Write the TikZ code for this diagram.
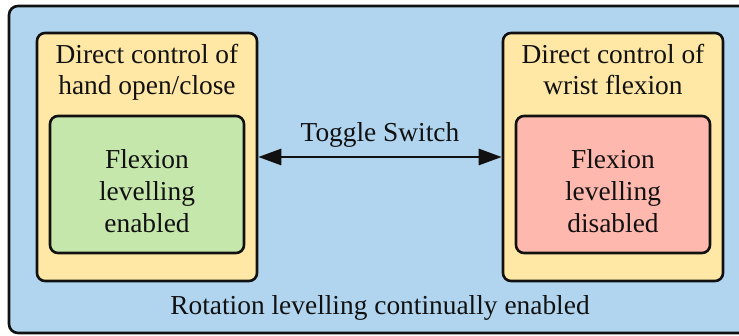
\documentclass[tikz,border=0pt]{standalone}
\usepackage{fontspec}
\setmainfont{Liberation Serif}
\usetikzlibrary{arrows.meta}
\definecolor{bgblue}{HTML}{B1D5EF}
\definecolor{ybox}{HTML}{FFE8A6}
\definecolor{gbox}{HTML}{C6E7AC}
\definecolor{rbox}{HTML}{FFB8AE}
\definecolor{ink}{HTML}{111111}
\tikzset{
  outerbox/.style={draw=ink, line width=2.6pt, fill=bgblue, rounded corners=9pt},
  modebox/.style={draw=ink, line width=2.6pt, fill=ybox, rounded corners=8pt, minimum width=220pt, minimum height=248pt, inner sep=0pt},
  statebox/.style={draw=ink, line width=2.6pt, rounded corners=8pt, minimum width=194pt, minimum height=137pt, inner sep=0pt},
  lbl/.style={anchor=base, inner sep=0pt, text=ink, font=\fontsize{27.4}{31}\selectfont},
  link/.style={draw=ink, line width=2.8pt, {Triangle[length=23pt,width=16pt]}-{Triangle[length=23pt,width=16pt]}}
}
\begin{document}
\begin{tikzpicture}[x=1pt,y=-1pt]
\useasboundingbox (0,0) rectangle (739,335);
\draw[outerbox] (9,6) rectangle (752,333);
\node[modebox] (ly) at (147,157) {};
\node[modebox] (ry) at (613,157) {};
\node[statebox, fill=gbox] (g) at (147,184.5) {};
\node[statebox, fill=rbox] (r) at (613,184.5) {};
\node[lbl] (lt1) at (147,63) {Direct control of};
\node[lbl] (lt2) at (147,94) {hand open/close};
\node[lbl] (rt1) at (613,63) {Direct control of};
\node[lbl] (rt2) at (613,94) {wrist flexion};
\node[lbl] (g1) at (147,168) {Flexion};
\node[lbl] (g2) at (147,200) {levelling};
\node[lbl] (g3) at (147,232) {enabled};
\node[lbl] (r1) at (613,168) {Flexion};
\node[lbl] (r2) at (613,200) {levelling};
\node[lbl] (r3) at (613,232) {disabled};
\node[lbl] (tog) at (380,141) {Toggle Switch};
\node[lbl] (rot) at (380,314) {Rotation levelling continually enabled};
\draw[link] (ly.east) -- (ry.west);
\end{tikzpicture}
\end{document}
